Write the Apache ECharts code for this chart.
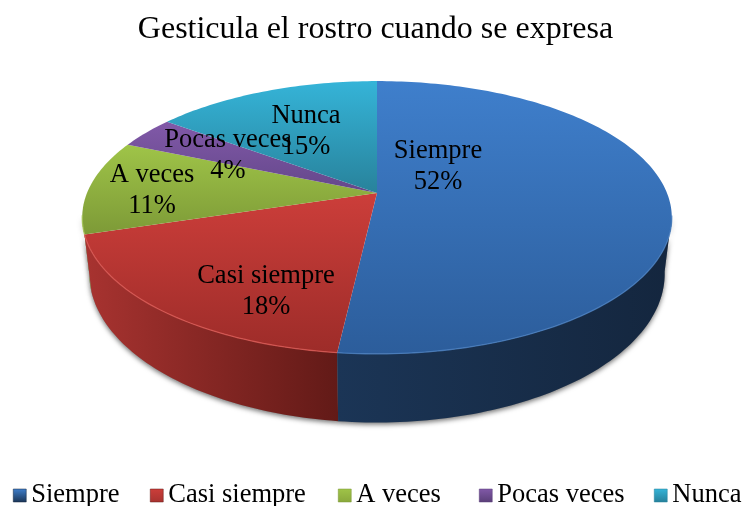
<!DOCTYPE html>
<html><head><meta charset="utf-8">
<script src="https://cdn.jsdelivr.net/npm/echarts@6/dist/echarts.min.js"></script>
<style>html,body{margin:0;padding:0;background:#fff}#c{width:744px;height:506px}</style>
</head><body><div id="c"></div>
<script>
const categories = ['Siempre', 'Casi siempre', 'A veces', 'Pocas veces', 'Nunca'];
const values = [51.8, 18.4, 11.2, 3.8, 14.8];
const titleText = 'Gesticula el rostro cuando se expresa';

// styling
const topColors = [['#3f7fcc','#2c5d9b'],['#cc3e3a','#9d2c29'],['#9fc448','#7d9a37'],['#8159a8','#64478a'],['#35b4d8','#28829b']];
const wallColors = [['#1b3556','#14263e'],['#a83330','#621a17'],['#8aa83c','#7a9534'],['#5a3f78','#5a3f78'],['#26809a','#26809a']];
const rimColors = ['#4a7fc0','#dc5a55','#a9c95c','#8f6ab5','#4cbcdc'];
const legendLeft = [13, 150, 338, 479, 654];
const labelPos = [[438,167],[266,292],[152,191],[228,156],[306,132]];

// projection of the disc
const top_ = {cx:377, cy:193, C:290, A:132, B:0.1795};
const bot_ = {cx:377, cy:247, C:283, A:144, B:0.1795};
function proj(p, ang){
  const u = Math.sin(ang), v = -Math.cos(ang), d = 1 - p.B * v;
  return [p.cx + p.C * u / d, p.cy + p.A * v / d];
}
const total = values.reduce((a,b)=>a+b,0);
const grad = (x0,y0,x1,y1,c)=>new echarts.graphic.LinearGradient(x0,y0,x1,y1,[{offset:0,color:c[0]},{offset:1,color:c[1]}]);

function renderSlice(i){
  return function(params, api){
    const val = api.value(0);
    let before = 0; for(let k=0;k<i;k++) before += values[k];
    const a0 = before/total*2*Math.PI, a1 = (before+val)/total*2*Math.PI;
    const n = Math.max(4, Math.ceil((a1-a0)/0.02));
    const arc = [], wallTop = [], wallBot = [];
    for(let k=0;k<=n;k++){
      const a = a0+(a1-a0)*k/n;
      arc.push(proj(top_,a));
      if(-Math.cos(a) > top_.B - 0.02){ wallTop.push(proj(top_,a)); wallBot.push(proj(bot_,a)); }
    }
    const children = [];
    if(wallTop.length>1){
      const wall = wallTop.concat(wallBot.slice().reverse());
      children.push({type:'polygon',z2:0,shape:{points:wall},style:{fill:'#888',shadowColor:'rgba(0,0,0,0.55)',shadowBlur:5,shadowOffsetY:2}});
      children.push({type:'polygon',z2:1-i*0.1,shape:{points:wall},style:{fill:grad(0,0,1,0,wallColors[i])}});
      children.push({type:'polyline',z2:3,shape:{points:wallTop},style:{fill:null,stroke:rimColors[i],lineWidth:1.3,opacity:0.8}});
    }
    children.push({type:'polygon',z2:2,shape:{points:arc.concat([[top_.cx,top_.cy]])},style:{fill:grad(0,0,0,1,topColors[i])}});
    children.push({type:'text',z2:100,style:{text:categories[i]+'\n'+Math.round(val/total*100)+'%',x:labelPos[i][0],y:labelPos[i][1],
      align:'center',verticalAlign:'middle',fill:'#000',font:'26.5px "Liberation Serif"',lineHeight:31}});
    return {type:'group',children};
  };
}

const chart = echarts.init(document.getElementById('c'),null,{renderer:'canvas'});
chart.setOption({
  animation:false,
  backgroundColor:'#fff',
  title:{text:titleText,left:375.5,textAlign:'center',top:14,padding:0,textStyle:{fontFamily:'Liberation Serif',fontSize:32,fontWeight:'normal',color:'#000'}},
  legend:categories.map((name,i)=>({
    data:[{name,icon:'rect',itemStyle:{color:grad(0,0,0,1,[topColors[i][0],wallColors[i][0]]),borderColor:wallColors[i][1],borderWidth:0.5}}],
    left:legendLeft[i],top:482,itemWidth:13,itemHeight:13,selectedMode:false,padding:0,
    textStyle:{fontFamily:'Liberation Serif',fontSize:26.5,color:'#000'}
  })),
  series:categories.map((name,i)=>({
    type:'custom',name,coordinateSystem:'none',silent:true,
    itemStyle:{color:topColors[i][0]},
    data:[[values[i]]],
    renderItem:renderSlice(i)
  }))
});
</script></body></html>
